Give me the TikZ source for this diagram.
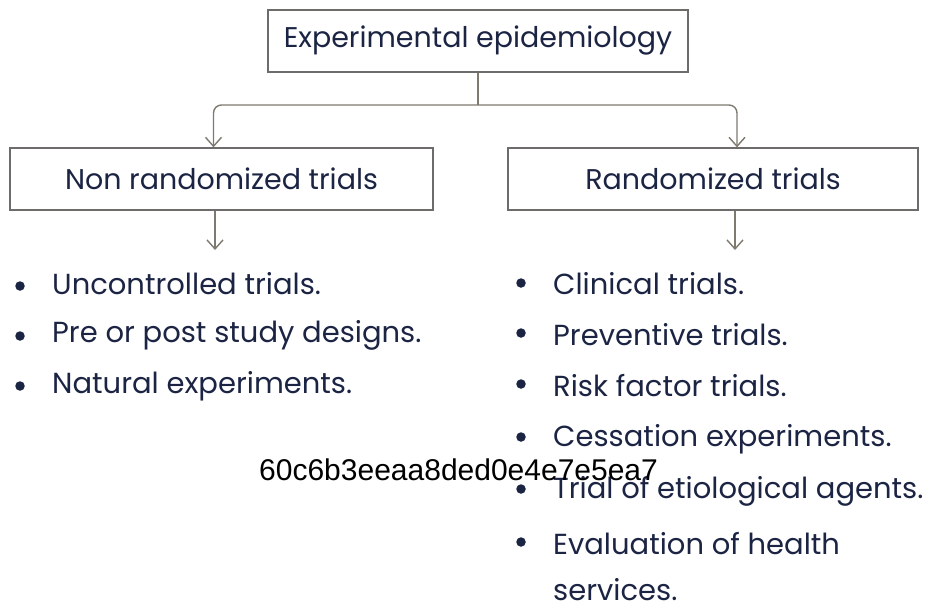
\documentclass[tikz,border=0pt]{standalone}
\usepackage{fontspec}
\setmainfont{Poppins}
\newfontfamily\hashfont{Liberation Sans}
\usetikzlibrary{arrows.meta}
\definecolor{ink}{HTML}{1C2444}
\definecolor{linegrey}{HTML}{7F7A70}
\definecolor{boxgrey}{HTML}{6E6C6A}
\begin{document}
\begin{tikzpicture}[x=1pt,y=-1pt,
  box/.style={draw=boxgrey, line width=1.3pt, fill=white, text=ink,
              font=\fontsize{28.5}{32}\selectfont, inner sep=0pt},
  link/.style={draw=linegrey, line width=1.4pt},
  arrowlink/.style={link, -{Straight Barb[length=9pt,width=16pt,line width=1.4pt]}},
  item/.style={anchor=west, text=ink, font=\fontsize{29}{33}\selectfont, inner sep=0pt},
  dot/.style={circle, fill=ink, inner sep=0pt, minimum size=9.5pt}]
\useasboundingbox (0,0) rectangle (928,610);
\fill[white] (0,0) rectangle (928,610);

% boxes
\node[box, minimum width=420pt, minimum height=62pt] (top) at (478,41) {Experimental epidemiology};
\node[box, minimum width=423pt, minimum height=62pt] (nonr) at (221.5,179) {Non randomized trials};
\node[box, minimum width=410pt, minimum height=62pt] (rand) at (713,179) {Randomized trials};

% branching connector
\coordinate (split) at (top.south |- 0,105);
\draw[link] (top.south) -- (split);
\draw[arrowlink, rounded corners=8pt] (split) -| ([xshift=-8pt]nonr.north);
\draw[arrowlink, rounded corners=8pt] (split) -| ([xshift=24pt]rand.north);

% arrows down to the lists
\coordinate (lend) at (215,250);
\coordinate (rend) at (735,250);
\draw[arrowlink] (nonr.south -| lend) -- (lend);
\draw[arrowlink] (rand.south -| rend) -- (rend);

% non randomized list
\node[dot] (ld1) at (20,286) {};
\node[item] (l1) at (52,284) {Uncontrolled trials.};
\node[dot] (ld2) at (20,336) {};
\node[item] (l2) at (52,335) {Pre or post study designs.};
\node[dot] (ld3) at (20,386) {};
\node[item] (l3) at (52,386) {Natural experiments.};

% randomized list
\node[dot] (rd1) at (521,283) {};
\node[item] (r1) at (553,284) {Clinical trials.};
\node[dot] (rd2) at (521,333) {};
\node[item] (r2) at (553,335) {Preventive trials.};
\node[dot] (rd3) at (521,384) {};
\node[item] (r3) at (553,386) {Risk factor trials.};
\node[dot] (rd4) at (521,437) {};
\node[item] (r4) at (553,439) {Cessation experiments.};
\node[dot] (rd5) at (521,489) {};
\node[item] (r5) at (553,491) {Trial of etiological agents.};
\node[dot] (rd6) at (521,542) {};
\node[item] (r6) at (553,544) {Evaluation of health};
\node[item] (r7) at (553,590) {services.};

% identifier string
\node[anchor=west, inner sep=0pt, font=\hashfont\fontsize{30}{34}\selectfont, text=black] (hash) at (259,470) {60c6b3eeaa8ded0e4e7e5ea7};
\end{tikzpicture}
\end{document}
